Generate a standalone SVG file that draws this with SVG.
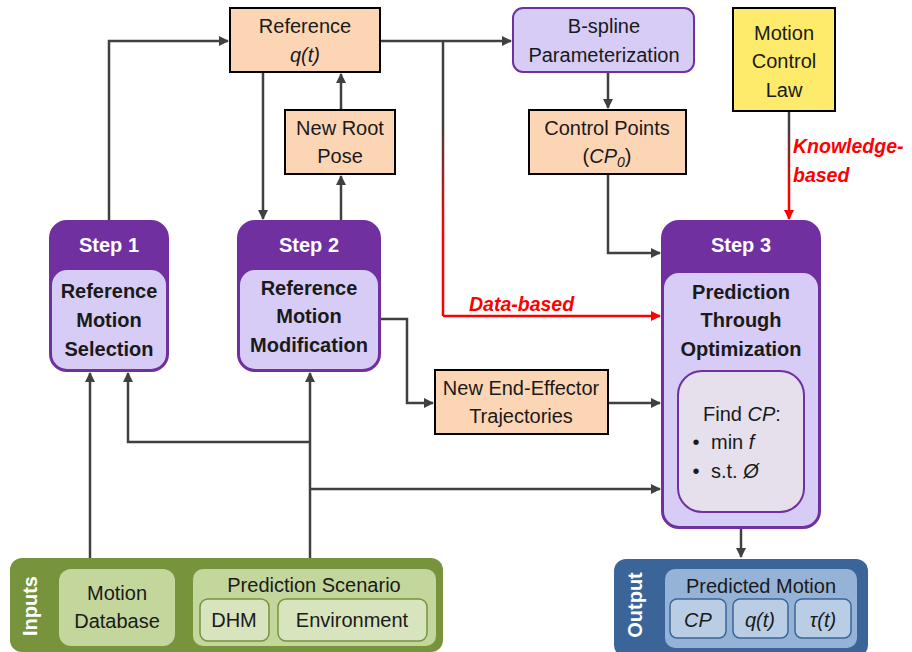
<svg xmlns="http://www.w3.org/2000/svg" width="912" height="652" viewBox="0 0 912 652">
  <defs>
    <marker id="arr" viewBox="0 0 10 10" refX="9" refY="5" markerWidth="4" markerHeight="4" orient="auto" markerUnits="strokeWidth">
      <path d="M0,0 L10,5 L0,10 z" fill="#404040"/>
    </marker>
    <marker id="arrRed" viewBox="0 0 10 10" refX="9" refY="5" markerWidth="4" markerHeight="4" orient="auto" markerUnits="strokeWidth">
      <path d="M0,0 L10,5 L0,10 z" fill="#FF0000"/>
    </marker>
    <linearGradient id="fadeData" gradientUnits="userSpaceOnUse" x1="0" y1="41" x2="0" y2="316">
      <stop offset="0.3" stop-color="#404040"/>
      <stop offset="0.7" stop-color="#FF0000"/>
    </linearGradient>
    <linearGradient id="fadeKnow" gradientUnits="userSpaceOnUse" x1="0" y1="111" x2="0" y2="220">
      <stop offset="0.15" stop-color="#404040"/>
      <stop offset="0.75" stop-color="#FF0000"/>
    </linearGradient>
  </defs>
  <style>
    text { font-family: "Liberation Sans", Arial, sans-serif; font-size: 20px; fill: #1a1a1a; text-anchor: middle; }
    .b { font-weight: bold; }
    .w { fill: #ffffff; font-weight: bold; }
    .i { font-style: italic; }
    .l { text-anchor: start; }
    .red { fill: #FF0000; font-weight: bold; font-style: italic; font-size: 19.5px; text-anchor: start; }
    .orange { fill: #FCD5B5; stroke: #000000; stroke-width: 2; }
    .lav { fill: #D6CCF5; stroke: #7030A0; stroke-width: 2; }
    .hdr { fill: #7030A0; stroke: #7030A0; stroke-width: 2; }
    .conn { fill: none; stroke: #404040; stroke-width: 2.5; }
    .g1 { fill: #77933C; }
    .g2 { fill: #C3D69B; }
    .g3 { fill: #D7E4BD; stroke: #77933C; stroke-width: 1.5; }
    .b1 { fill: #3B6598; }
    .b2 { fill: #95B3D7; }
    .b3 { fill: #B9CDE5; stroke: #3B6598; stroke-width: 1.5; }
  </style>

  <!-- connectors -->
  <g id="connectors">
    <polyline class="conn" points="109,221 109,41 228,41" marker-end="url(#arr)"/>
    <polyline class="conn" points="380,41 511,41" marker-end="url(#arr)"/>
    <polyline class="conn" points="263,72 263,219" marker-end="url(#arr)"/>
    <polyline class="conn" points="341,221 341,176" marker-end="url(#arr)"/>
    <polyline class="conn" points="341,110 341,74" marker-end="url(#arr)"/>
    <polyline class="conn" points="608,72 608,108" marker-end="url(#arr)"/>
    <polyline class="conn" points="608,174 608,253 660,253" marker-end="url(#arr)"/>
    <polyline fill="none" stroke="url(#fadeData)" stroke-width="2.5" points="443,41 443,316"/>
    <polyline fill="none" stroke="#FF0000" stroke-width="2.5" points="443,316 660,316" marker-end="url(#arrRed)"/>
    <line x1="789" y1="111" x2="789" y2="212" stroke="url(#fadeKnow)" stroke-width="2.5"/>
    <line x1="789" y1="210" x2="789" y2="219" stroke="#FF0000" stroke-width="2.5" marker-end="url(#arrRed)"/>
    <polyline class="conn" points="380,319 407,319 407,403 433,403" marker-end="url(#arr)"/>
    <polyline class="conn" points="608,403 660,403" marker-end="url(#arr)"/>
    <polyline class="conn" points="90,558 90,373" marker-end="url(#arr)"/>
    <polyline class="conn" points="310,558 310,373" marker-end="url(#arr)"/>
    <polyline class="conn" points="310,442 128,442 128,373" marker-end="url(#arr)"/>
    <polyline class="conn" points="310,489 660,489" marker-end="url(#arr)"/>
    <polyline class="conn" points="741,528 741,557" marker-end="url(#arr)"/>
  </g>

  <!-- top row -->
  <g id="reference">
    <rect class="orange" x="230" y="8" width="150" height="64"/>
    <text x="305" y="33">Reference</text>
    <text x="305" y="62" class="i">q(t)</text>
  </g>
  <g id="bspline">
    <rect class="lav" x="513" y="8" width="181" height="64" rx="10"/>
    <text x="604" y="33">B-spline</text>
    <text x="604" y="62">Parameterization</text>
  </g>
  <g id="motion-control-law">
    <rect x="733" y="8" width="102" height="103" fill="#FEEB6C" stroke="#000000" stroke-width="2"/>
    <text x="784" y="40">Motion</text>
    <text x="784" y="68">Control</text>
    <text x="784" y="97">Law</text>
  </g>
  <g id="new-root-pose">
    <rect class="orange" x="285" y="110" width="110" height="64"/>
    <text x="340" y="135">New Root</text>
    <text x="340" y="163">Pose</text>
  </g>
  <g id="control-points">
    <rect class="orange" x="529" y="110" width="157" height="64"/>
    <text x="607" y="135">Control Points</text>
    <text x="607" y="163">(<tspan class="i">CP</tspan><tspan class="i" font-size="14" dy="4">0</tspan><tspan dy="-4">)</tspan></text>
  </g>

  <!-- labels on the red connectors -->
  <g id="edge-labels">
    <text class="red" x="469" y="311">Data-based</text>
    <text class="red" x="793" y="153">Knowledge-</text>
    <text class="red" x="793" y="182">based</text>
  </g>

  <!-- steps -->
  <g id="step1">
    <rect class="hdr" x="50" y="221" width="118" height="150" rx="17"/>
    <rect x="52" y="270" width="114" height="99" rx="15" fill="#D6CCF5"/>
    <text x="109" y="252" class="w">Step 1</text>
    <text x="109" y="298" class="b">Reference</text>
    <text x="109" y="327" class="b">Motion</text>
    <text x="109" y="356" class="b">Selection</text>
  </g>
  <g id="step2">
    <rect class="hdr" x="238" y="221" width="142" height="150" rx="17"/>
    <rect x="240" y="270" width="138" height="99" rx="15" fill="#D6CCF5"/>
    <text x="309" y="252" class="w">Step 2</text>
    <text x="309" y="295" class="b">Reference</text>
    <text x="309" y="323" class="b">Motion</text>
    <text x="309" y="352" class="b">Modification</text>
  </g>
  <g id="new-end-effector">
    <rect class="orange" x="435" y="370" width="173" height="64"/>
    <text x="521" y="395">New End-Effector</text>
    <text x="521" y="423">Trajectories</text>
  </g>
  <g id="step3">
    <rect class="hdr" x="662" y="221" width="158" height="307" rx="17"/>
    <rect x="664" y="273" width="154" height="253" rx="15" fill="#D6CCF5"/>
    <text x="741" y="252" class="w">Step 3</text>
    <text x="741" y="299" class="b">Prediction</text>
    <text x="741" y="327" class="b">Through</text>
    <text x="741" y="356" class="b">Optimization</text>
    <rect x="678" y="371" width="126" height="141" rx="24" fill="#E5E0EC" stroke="#7030A0" stroke-width="2"/>
    <text x="742" y="421">Find <tspan class="i">CP</tspan>:</text>
    <text x="696" y="449">•</text>
    <text x="711" y="449" class="l">min <tspan class="i">f</tspan></text>
    <text x="696" y="478">•</text>
    <text x="711" y="478" class="l">s.t. <tspan class="i">Ø</tspan></text>
  </g>

  <!-- inputs panel -->
  <g id="inputs">
    <rect class="g1" x="10" y="558" width="433" height="94" rx="12"/>
    <text class="w" transform="translate(37,606) rotate(-90)">Inputs</text>
    <rect class="g2" x="59" y="569" width="116" height="77" rx="12"/>
    <text x="117" y="600">Motion</text>
    <text x="117" y="628">Database</text>
    <rect class="g2" x="193" y="569" width="243" height="77" rx="10"/>
    <text x="314" y="592">Prediction Scenario</text>
    <rect class="g3" x="200" y="599" width="69" height="42" rx="8"/>
    <text x="234" y="627">DHM</text>
    <rect class="g3" x="278" y="599" width="149" height="42" rx="8"/>
    <text x="352" y="627">Environment</text>
  </g>

  <!-- output panel -->
  <g id="output">
    <rect class="b1" x="614" y="559" width="254" height="98" rx="12"/>
    <text class="w" transform="translate(642,605) rotate(-90)">Output</text>
    <rect class="b2" x="665" y="569" width="192" height="79" rx="10"/>
    <text x="761" y="593">Predicted Motion</text>
    <rect class="b3" x="670" y="599" width="56" height="39" rx="7"/>
    <text x="698" y="627" class="i">CP</text>
    <rect class="b3" x="733" y="599" width="55" height="39" rx="7"/>
    <text x="760" y="627" class="i">q(t)</text>
    <rect class="b3" x="795" y="599" width="56" height="39" rx="7"/>
    <text x="823" y="627" class="i">τ(t)</text>
  </g>
</svg>
